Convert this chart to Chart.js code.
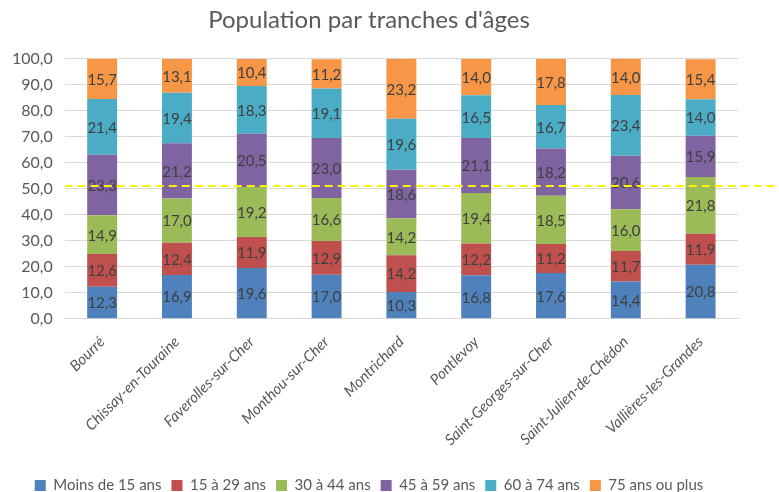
<!DOCTYPE html>
<html>
<head>
<meta charset="utf-8">
<script src="https://cdn.jsdelivr.net/npm/chart.js@4/dist/chart.umd.min.js"></script>
<style>
    html, body { margin: 0; padding: 0; background: #fff; }
    #wrap { width: 779px; height: 492px; position: relative; }
</style>
</head>
<body>
<div id="wrap"><canvas id="popChart"></canvas></div>
<script>
// Data
const communes = ['Bourré', 'Chissay-en-Touraine', 'Faverolles-sur-Cher', 'Monthou-sur-Cher', 'Montrichard',
    'Pontlevoy', 'Saint-Georges-sur-Cher', 'Saint-Julien-de-Chédon', 'Vallières-les-Grandes'];
const moins15 = [12.3, 16.9, 19.6, 17.0, 10.3, 16.8, 17.6, 14.4, 20.8];
const de15a29 = [12.6, 12.4, 11.9, 12.9, 14.2, 12.2, 11.2, 11.7, 11.9];
const de30a44 = [14.9, 17.0, 19.2, 16.6, 14.2, 19.4, 18.5, 16.0, 21.8];
const de45a59 = [23.3, 21.2, 20.5, 23.0, 18.6, 21.1, 18.2, 20.6, 15.9];
const de60a74 = [21.4, 19.4, 18.3, 19.1, 19.6, 16.5, 16.7, 23.4, 14.0];
const plus75 = [15.7, 13.1, 10.4, 11.2, 23.2, 14.0, 17.8, 14.0, 15.4];
const seriesNames = ['Moins de 15 ans', '15 à 29 ans', '30 à 44 ans', '45 à 59 ans', '60 à 74 ans', '75 ans ou plus'];
const seriesColors = ['#4F81BD', '#C0504D', '#9BBB59', '#8064A2', '#4BACC6', '#F79646'];
const refLine = 51.1;

const fontFam = 'Lato, "Open Sans", sans-serif';
const fmt = v => v.toFixed(1).replace('.', ',');

// labels inside each segment
const segmentLabels = {
    id: 'segmentLabels',
    afterDatasetsDraw(chart) {
        const ctx = chart.ctx;
        ctx.save();
        ctx.font = '15px ' + fontFam;
        ctx.fillStyle = '#404040';
        ctx.textAlign = 'center';
        ctx.textBaseline = 'middle';
        chart.data.datasets.forEach((ds, i) => {
            chart.getDatasetMeta(i).data.forEach((bar, j) => {
                const mid = (bar.y + bar.base) / 2;
                ctx.fillText(fmt(ds.data[j]), bar.x, mid + 1);
            });
        });
        ctx.restore();
    }
};

// yellow dashed line
const dashedLine = {
    id: 'dashedLine',
    afterDraw(chart) {
        const ctx = chart.ctx;
        const y = chart.scales.y.getPixelForValue(refLine);
        ctx.save();
        ctx.strokeStyle = '#FFF200';
        ctx.lineWidth = 2;
        ctx.setLineDash([8, 5]);
        ctx.beginPath();
        ctx.moveTo(chart.chartArea.left, y);
        ctx.lineTo(chart.width, y);
        ctx.stroke();
        ctx.restore();
    }
};

const datasets = [moins15, de15a29, de30a44, de45a59, de60a74, plus75].map((d, i) => ({
    label: seriesNames[i],
    data: d,
    backgroundColor: seriesColors[i],
    borderWidth: 0,
    barPercentage: 0.8,
    categoryPercentage: 0.5
}));

new Chart(document.getElementById('popChart'), {
    type: 'bar',
    data: { labels: communes, datasets: datasets },
    options: {
        responsive: true,
        maintainAspectRatio: false,
        animation: false,
        layout: { padding: { left: 0, right: 41, top: 2, bottom: -11 } },
        plugins: {
            title: {
                display: true,
                text: "Population par tranches d'âges",
                color: '#595959',
                font: { family: fontFam, size: 24, weight: 'normal' },
                padding: { top: 4, bottom: 24 }
            },
            legend: {
                position: 'bottom',
                labels: {
                    color: '#595959',
                    boxWidth: 11,
                    boxHeight: 11,
                    padding: 10,
                    font: { family: fontFam, size: 15 }
                }
            },
            tooltip: { enabled: false }
        },
        scales: {
            x: {
                stacked: true,
                grid: { display: false },
                border: { color: '#D9D9D9' },
                afterFit: s => { s.height += 13; },
                ticks: {
                    color: '#595959',
                    minRotation: 45,
                    maxRotation: 45,
                    padding: 6,
                    font: { family: fontFam, size: 15, style: 'italic' }
                }
            },
            y: {
                stacked: true,
                min: 0,
                max: 100,
                grid: { color: '#D9D9D9', lineWidth: 1, drawTicks: false },
                border: { display: false },
                ticks: {
                    stepSize: 10,
                    padding: 12,
                    color: '#595959',
                    font: { family: fontFam, size: 16 },
                    callback: v => fmt(v)
                }
            }
        }
    },
    plugins: [segmentLabels, dashedLine]
});
</script>
</body>
</html>
